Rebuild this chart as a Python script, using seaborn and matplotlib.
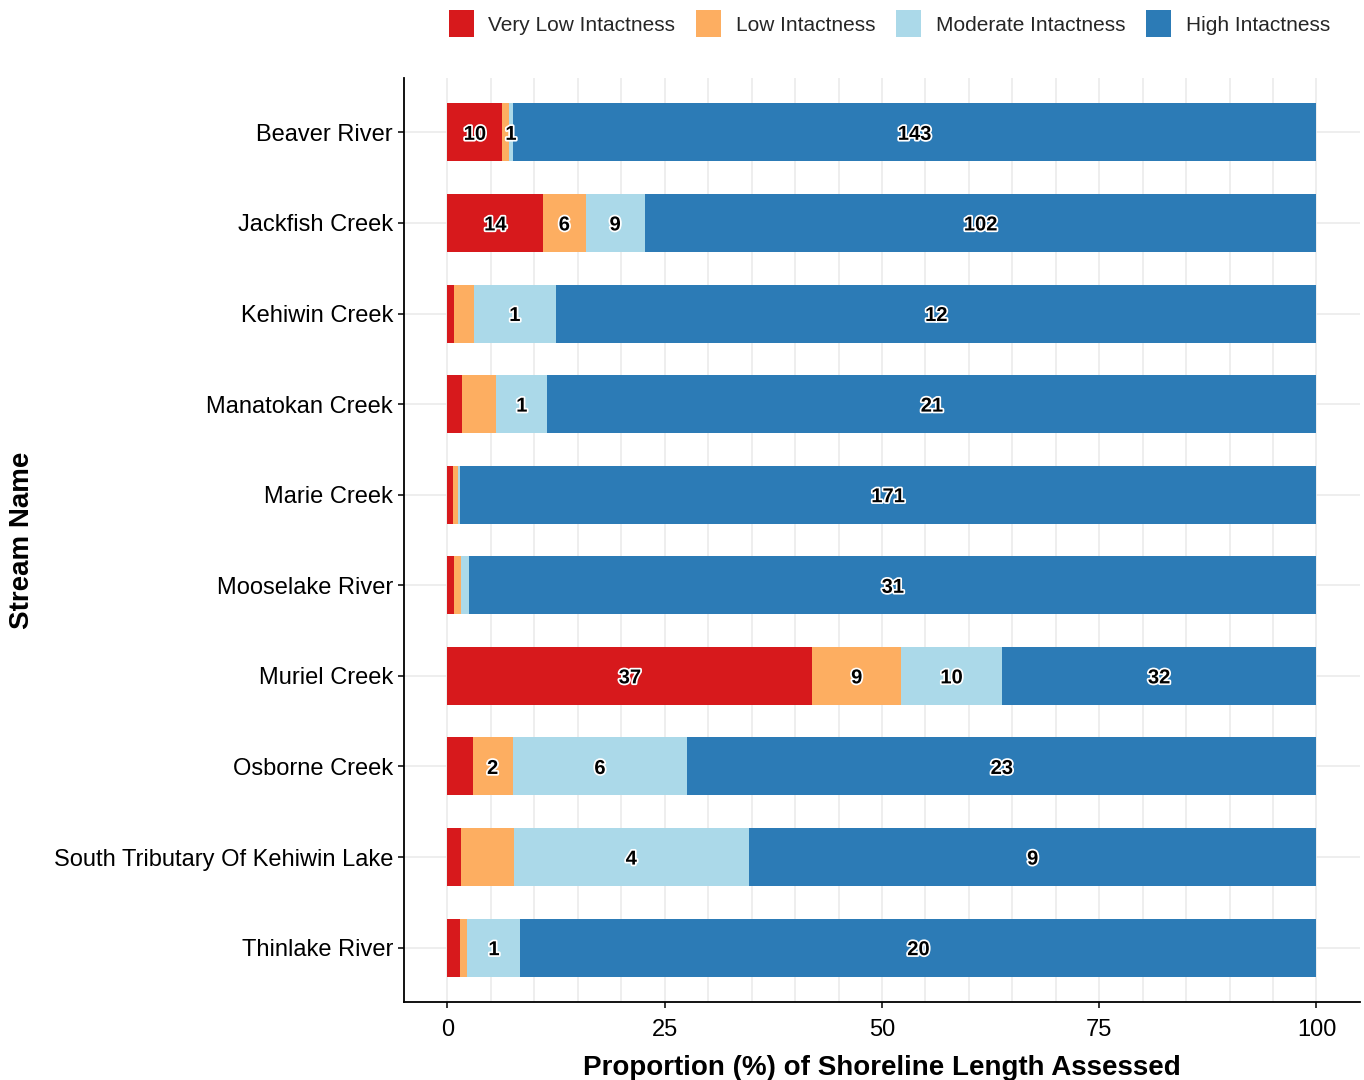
import matplotlib
matplotlib.use("Agg")
import matplotlib.pyplot as plt
import matplotlib.patheffects as pe
from matplotlib.patches import Patch
import numpy as np
import pandas as pd
import seaborn as sns

streams = [
    "Beaver River",
    "Jackfish Creek",
    "Kehiwin Creek",
    "Manatokan Creek",
    "Marie Creek",
    "Mooselake River",
    "Muriel Creek",
    "Osborne Creek",
    "South Tributary Of Kehiwin Lake",
    "Thinlake River",
]
classes = ["Very Low Intactness", "Low Intactness", "Moderate Intactness", "High Intactness"]
colors = ["#D7191C", "#FDAE61", "#ABD9E9", "#2C7BB6"]

# proportion (%) of shoreline length per class
very_low_pct = [6.3, 11.0, 0.8, 1.7, 0.6, 0.7, 42.0, 2.9, 1.6, 1.4]
low_pct = [0.8, 4.9, 2.2, 3.9, 0.6, 0.9, 10.2, 4.6, 6.0, 0.9]
moderate_pct = [0.4, 6.8, 9.5, 5.9, 0.2, 0.9, 11.6, 20.1, 27.1, 6.1]
high_pct = [92.5, 77.3, 87.5, 88.5, 98.6, 97.5, 36.2, 72.4, 65.3, 91.6]

# segment counts shown as labels (None = no label)
very_low_n = [10, 14, None, None, None, None, 37, None, None, None]
low_n = [None, 6, None, None, None, None, 9, 2, None, None]
moderate_n = [1, 9, 1, 1, None, None, 10, 6, 4, 1]
high_n = [143, 102, 12, 21, 171, 31, 32, 23, 9, 20]

pcts = [very_low_pct, low_pct, moderate_pct, high_pct]
counts = [very_low_n, low_n, moderate_n, high_n]

df = pd.DataFrame({"stream": streams})
for cls, vals in zip(classes, pcts):
    df[cls] = vals
cum = df[classes].cumsum(axis=1)

sns.set_theme(style="white")
plt.rcParams["font.family"] = ["Liberation Sans", "DejaVu Sans"]

fig = plt.figure(figsize=(13.64, 10.8), dpi=100)
ax = fig.add_axes([0.2962, 0.0722, 0.7008, 0.8556])

# stacked bars: draw the cumulative totals from the top class down
for cls, col in reversed(list(zip(classes, colors))):
    sns.barplot(x=cum[cls], y=df["stream"], order=streams, color=col, saturation=1,
                width=0.64, linewidth=0, errorbar=None, orient="h", ax=ax)

# count labels at segment centres
for i, cls in enumerate(classes):
    left = cum[cls] - df[cls]
    for j, n in enumerate(counts[i]):
        if n is None:
            continue
        ax.text(left[j] + df[cls][j] / 2, j, str(n), ha="center", va="center_baseline",
                fontsize=14.5, fontweight="bold", color="black",
                path_effects=[pe.withStroke(linewidth=2.5, foreground="white")])

ax.set_xlim(-5, 105)
ax.set_ylim(len(streams) - 0.4, -0.6)
ax.set_xticks([0, 25, 50, 75, 100])
ax.set_xticks(np.arange(0, 105, 5), minor=True)
ax.set_axisbelow(True)
ax.grid(which="both", axis="x", color="#EBEBEB", linewidth=1.2)
ax.grid(which="major", axis="y", color="#EBEBEB", linewidth=1.2)

for side in ["top", "right"]:
    ax.spines[side].set_visible(False)
for side in ["left", "bottom"]:
    ax.spines[side].set_color("black")
    ax.spines[side].set_linewidth(1.3)

ax.tick_params(which="major", axis="both", length=4, width=1.1, color="black",
               labelsize=17, labelcolor="black", left=True, bottom=True)
ax.tick_params(which="major", axis="y", pad=4)
ax.tick_params(which="major", axis="x", pad=8)
ax.tick_params(which="minor", length=0)

ax.set_xlabel("Proportion (%) of Shoreline Length Assessed", fontsize=20,
              fontweight="bold", color="black")
ax.set_ylabel("Stream Name", fontsize=20, fontweight="bold", color="black")
ax.xaxis.set_label_coords(0.5, -0.057)
ax.yaxis.set_label_coords(-0.386, 0.5)

handles = [Patch(facecolor=c, edgecolor="none", label=l) for l, c in zip(classes, colors)]
fig.legend(handles=handles, loc="center", bbox_to_anchor=(0.652, 0.978), ncol=4,
           frameon=False, fontsize=15, handlelength=1.2, handleheight=1.6,
           handletextpad=0.7, columnspacing=1.0)

fig.savefig("out.png", dpi=100)
